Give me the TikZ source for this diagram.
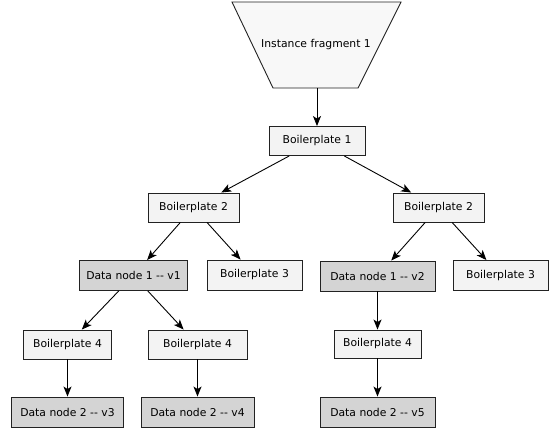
\documentclass[tikz,border=0pt]{standalone}
\usepackage{fontspec}
\newfontfamily\diagfont{DejaVu Sans}[Ligatures=TeXOff]
\usetikzlibrary{arrows.meta}
\definecolor{plainfill}{HTML}{F3F3F3}
\definecolor{datafill}{HTML}{D4D4D4}
\definecolor{fragfill}{HTML}{F8F8F8}
\definecolor{edgeline}{HTML}{222222}
\begin{document}
\begin{tikzpicture}[x=1pt,y=-1pt,
  font=\diagfont\fontsize{10.8}{12}\selectfont,
  box/.style={draw=edgeline, line width=0.9pt, inner sep=0pt, anchor=center},
  plainbox/.style={box, fill=plainfill},
  databox/.style={box, fill=datafill},
  link/.style={draw=black, line width=0.9pt, -{Stealth[length=10pt,width=8pt,inset=2.5pt]}}]
\useasboundingbox (0,0) rectangle (549,429);

% source fragment (inverted trapezium)
\draw[edgeline, fill=fragfill, line width=0.9pt]
  (232,2) -- (401,2) -- (358,88) -- (273,88) -- cycle;
\node (frag) at (316,45) {Instance fragment 1};
\coordinate (fragbot) at (317,88);

% boilerplate and data nodes
\node[plainbox, minimum width=96pt, minimum height=29pt] (bp1)  at (317,141)   {Boilerplate 1};
\node[plainbox, minimum width=91pt, minimum height=29pt] (bp2L) at (193.5,207.5) {Boilerplate 2};
\node[plainbox, minimum width=91pt, minimum height=29pt] (bp2R) at (438.5,207.5) {Boilerplate 2};

\node[databox,  minimum width=108pt, minimum height=30pt] (dn1a) at (133.5,275.5) {Data node 1 -- v1};
\node[plainbox, minimum width=95pt,  minimum height=30pt] (bp3L) at (254.5,275)   {Boilerplate 3};
\node[databox,  minimum width=115pt, minimum height=30pt] (dn1b) at (377.5,276)   {Data node 1 -- v2};
\node[plainbox, minimum width=95pt,  minimum height=30pt] (bp3R) at (500.5,275.5) {Boilerplate 3};

\node[plainbox, minimum width=88pt, minimum height=29pt] (bp4a) at (67.5,344.5)  {Boilerplate 4};
\node[plainbox, minimum width=99pt, minimum height=29pt] (bp4b) at (197.5,344.5) {Boilerplate 4};
\node[plainbox, minimum width=87pt, minimum height=28pt] (bp4c) at (377.5,344)   {Boilerplate 4};

\node[databox, minimum width=112pt, minimum height=30pt] (dn2a) at (67.5,412)  {Data node 2 -- v3};
\node[databox, minimum width=113pt, minimum height=30pt] (dn2b) at (197.5,412) {Data node 2 -- v4};
\node[databox, minimum width=115pt, minimum height=30pt] (dn2c) at (377.5,412) {Data node 2 -- v5};

% connectors
\draw[link] (fragbot) -- (bp1);
\draw[link] (bp1) -- (bp2L);
\draw[link] (bp1) -- (bp2R);
\draw[link] (bp2L) -- (dn1a);
\draw[link] (bp2L) -- (bp3L);
\draw[link] (bp2R) -- (dn1b);
\draw[link] (bp2R) -- (bp3R);
\draw[link] (dn1a) -- (bp4a);
\draw[link] (dn1a) -- (bp4b);
\draw[link] (dn1b) -- (bp4c);
\draw[link] (bp4a) -- (dn2a);
\draw[link] (bp4b) -- (dn2b);
\draw[link] (bp4c) -- (dn2c);
\end{tikzpicture}
\end{document}
